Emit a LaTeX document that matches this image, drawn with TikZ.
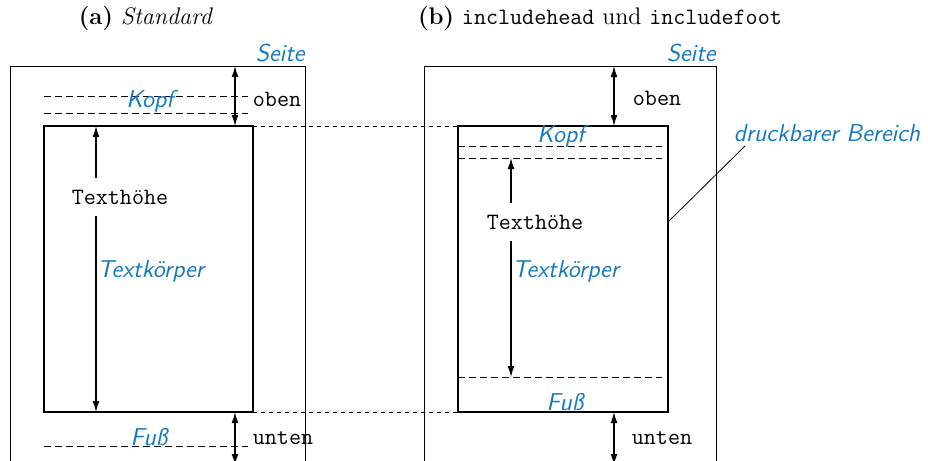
\documentclass[tikz,border=0pt]{standalone}
\usepackage{fontspec}
\usetikzlibrary{arrows.meta}
\definecolor{kblue}{RGB}{20,120,190}
\begin{document}
\begin{tikzpicture}[x=0.5pt,y=-0.5pt,
 bluelabel/.style={text=kblue,font=\sffamily\itshape\fontsize{12.2}{14}\selectfont,inner sep=0pt},
 mono/.style={font=\ttfamily\fontsize{11.7}{14}\selectfont,inner sep=0pt},
 caption/.style={font=\fontsize{12}{14}\selectfont,inner sep=0pt},
 pageline/.style={line width=0.5pt},
 bodybox/.style={line width=1pt},
 kopfdash/.style={line width=0.4pt,dash pattern=on 3.5pt off 2pt},
 linkdash/.style={line width=0.4pt,dash pattern=on 2pt off 2pt},
 dim/.style={line width=0.6pt,{Latex[length=5.5pt,width=3.4pt]}-{Latex[length=5.5pt,width=3.4pt]}},
 leader/.style={line width=0.4pt},
]
\useasboundingbox (0,0) rectangle (928,461);
\clip (0,0) rectangle (928,461);

% ---------- coordinates ----------
\coordinate (pA1) at (10,66);  \coordinate (pA2) at (305,66);
\coordinate (pAbl) at (10,480); \coordinate (pAbr) at (305,480);
\coordinate (bA1) at (44,126); \coordinate (bA2) at (253,412);
\coordinate (pB1) at (424,66); \coordinate (pB2) at (716,66);
\coordinate (pBbl) at (424,480); \coordinate (pBbr) at (716,480);
\coordinate (bB1) at (458,126); \coordinate (bB2) at (668,412);

% ---------- captions ----------
\node[caption] (capA) at (146,19) {\textbf{(a)} \textit{Standard}};
\node[caption] (capB) at (600,19) {\textbf{(b)} {\fontsize{11.7}{14}\selectfont\texttt{includehead}} und {\fontsize{11.7}{14}\selectfont\texttt{includefoot}}};

% ---------- panel (a) ----------
\draw[pageline] (pAbl) -- (pA1) -- (pA2) -- (pAbr);
\node[bluelabel,anchor=east] (seiteA) at (305,53) {Seite};
\draw[kopfdash] (44,96) coordinate (kA1) -- (248,96) coordinate (kA2);
\draw[kopfdash] (44,113) coordinate (kA3) -- (248,113) coordinate (kA4);
\node[bluelabel] (kopfA) at (150,101) {Kopf};
\draw[bodybox] (bA1) rectangle (bA2);
\coordinate (tA1) at (96,126); \coordinate (tA2) at (96,412);
\draw[dim] (tA1) -- (tA2);
\node[mono,fill=white,inner xsep=1pt,inner ysep=6pt] (thA) at (120,197) {Texthöhe};
\node[bluelabel,anchor=west] (tkA) at (97,271) {Textkörper};
\draw[kopfdash] (44,446) coordinate (fA1) -- (248,446) coordinate (fA2);
\node[bluelabel] (fussA) at (149,437) {Fuß};
\coordinate (oA1) at (235,66); \coordinate (oA2) at (235,126);
\draw[dim] (oA1) -- (oA2);
\node[mono] (obenA) at (277,99) {oben};
\coordinate (uA1) at (235,412); \coordinate (uA2) at (235,465);
\draw[dim] (uA1) -- (uA2);
\node[mono] (untenA) at (283,438) {unten};

% ---------- links ----------
\draw[linkdash] (253,126) coordinate (lt1) -- (458,126) coordinate (lt2);
\draw[linkdash] (253,412) coordinate (lb1) -- (458,412) coordinate (lb2);

% ---------- panel (b) ----------
\draw[pageline] (pBbl) -- (pB1) -- (pB2) -- (pBbr);
\node[bluelabel,anchor=east] (seiteB) at (716,53) {Seite};
\draw[bodybox] (bB1) rectangle (bB2);
\draw[kopfdash] (458,146) coordinate (kB1) -- (662,146) coordinate (kB2);
\draw[kopfdash] (458,158) coordinate (kB3) -- (662,158) coordinate (kB4);
\node[bluelabel] (kopfB) at (561,136) {Kopf};
\coordinate (tB1) at (511,158); \coordinate (tB2) at (511,377);
\draw[dim] (tB1) -- (tB2);
\node[mono,fill=white,inner xsep=1pt,inner ysep=6pt] (thB) at (535,222) {Texthöhe};
\node[bluelabel,anchor=west] (tkB) at (512,271) {Textkörper};
\draw[kopfdash] (458,377) coordinate (fB1) -- (662,377) coordinate (fB2);
\node[bluelabel] (fussB) at (565,402) {Fuß};
\coordinate (oB1) at (614,66); \coordinate (oB2) at (614,126);
\draw[dim] (oB1) -- (oB2);
\node[mono] (obenB) at (657,98) {oben};
\coordinate (uB1) at (614,412); \coordinate (uB2) at (614,465);
\draw[dim] (uB1) -- (uB2);
\node[mono] (untenB) at (662,438) {unten};
\node[bluelabel] (druck) at (827,133) {druckbarer Bereich};
\coordinate (ldA) at (668,222); \coordinate (ldB) at (745,146);
\draw[leader] (ldA) -- (ldB);
\end{tikzpicture}
\end{document}
